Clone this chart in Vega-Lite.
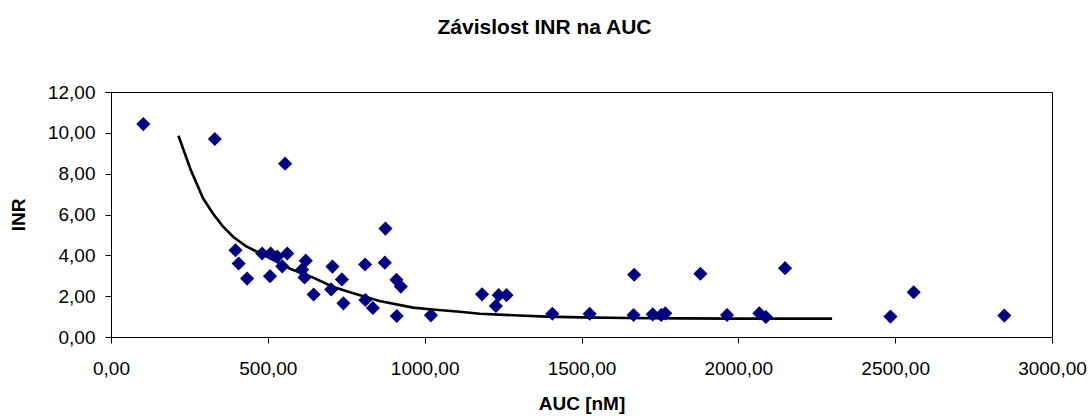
{
  "$schema": "https://vega.github.io/schema/vega-lite/v6.json",
  "width": 941,
  "height": 245,
  "autosize": {"type": "none"},
  "padding": {"left": 111, "top": 92, "right": 38, "bottom": 79},
  "background": "white",
  "title": {
    "text": "Závislost INR na AUC",
    "font": "Liberation Sans",
    "fontSize": 21,
    "fontWeight": "bold",
    "color": "black",
    "anchor": "middle",
    "frame": "group",
    "dx": -37,
    "offset": 45
  },
  "datasets": {
    "points": [
      {"auc": 103, "inr": 10.43},
      {"auc": 331, "inr": 9.70},
      {"auc": 555, "inr": 8.49},
      {"auc": 875, "inr": 5.31},
      {"auc": 397, "inr": 4.25},
      {"auc": 407, "inr": 3.60},
      {"auc": 434, "inr": 2.86},
      {"auc": 482, "inr": 4.09},
      {"auc": 509, "inr": 4.09},
      {"auc": 530, "inr": 3.94},
      {"auc": 562, "inr": 4.09},
      {"auc": 546, "inr": 3.46},
      {"auc": 507, "inr": 2.98},
      {"auc": 621, "inr": 3.74},
      {"auc": 609, "inr": 3.30},
      {"auc": 617, "inr": 2.92},
      {"auc": 646, "inr": 2.08},
      {"auc": 706, "inr": 3.45},
      {"auc": 702, "inr": 2.33},
      {"auc": 736, "inr": 2.82},
      {"auc": 741, "inr": 1.65},
      {"auc": 810, "inr": 3.55},
      {"auc": 873, "inr": 3.64},
      {"auc": 811, "inr": 1.81},
      {"auc": 835, "inr": 1.42},
      {"auc": 910, "inr": 2.80},
      {"auc": 924, "inr": 2.47},
      {"auc": 911, "inr": 1.03},
      {"auc": 1020, "inr": 1.06},
      {"auc": 1183, "inr": 2.09},
      {"auc": 1236, "inr": 2.05},
      {"auc": 1261, "inr": 2.05},
      {"auc": 1227, "inr": 1.52},
      {"auc": 1407, "inr": 1.14},
      {"auc": 1526, "inr": 1.14},
      {"auc": 1668, "inr": 3.05},
      {"auc": 1666, "inr": 1.08},
      {"auc": 1727, "inr": 1.11},
      {"auc": 1754, "inr": 1.08},
      {"auc": 1767, "inr": 1.16},
      {"auc": 1879, "inr": 3.10},
      {"auc": 1964, "inr": 1.08},
      {"auc": 2067, "inr": 1.16},
      {"auc": 2088, "inr": 0.98},
      {"auc": 2149, "inr": 3.37},
      {"auc": 2485, "inr": 1.00},
      {"auc": 2559, "inr": 2.19},
      {"auc": 2848, "inr": 1.05}
    ],
    "trend": [
      {"auc": 215, "inr": 9.86},
      {"auc": 255, "inr": 8.15},
      {"auc": 294, "inr": 6.78},
      {"auc": 325, "inr": 6.05},
      {"auc": 356, "inr": 5.43},
      {"auc": 390, "inr": 4.90},
      {"auc": 430, "inr": 4.45},
      {"auc": 494, "inr": 3.96},
      {"auc": 573, "inr": 3.33},
      {"auc": 643, "inr": 2.92},
      {"auc": 707, "inr": 2.46},
      {"auc": 767, "inr": 2.17},
      {"auc": 856, "inr": 1.76},
      {"auc": 963, "inr": 1.44},
      {"auc": 1016, "inr": 1.36},
      {"auc": 1112, "inr": 1.24},
      {"auc": 1176, "inr": 1.14},
      {"auc": 1300, "inr": 1.05},
      {"auc": 1389, "inr": 1.00},
      {"auc": 1500, "inr": 0.96},
      {"auc": 1650, "inr": 0.93},
      {"auc": 1815, "inr": 0.91},
      {"auc": 2000, "inr": 0.90},
      {"auc": 2299, "inr": 0.90}
    ]
  },
  "encoding": {
    "x": {
      "field": "auc",
      "type": "quantitative",
      "scale": {"domain": [0, 3000], "nice": false, "zero": true},
      "axis": {
        "title": "AUC [nM]",
        "values": [0, 500, 1000, 1500, 2000, 2500, 3000],
        "labelExpr": "replace(format(datum.value, '.2f'), '.', ',')",
        "labelFlush": false,
        "labelOverlap": false,
        "grid": false,
        "tickSize": 6,
        "labelPadding": 16,
        "titlePadding": 16
      }
    },
    "y": {
      "field": "inr",
      "type": "quantitative",
      "scale": {"domain": [0, 12], "nice": false},
      "axis": {
        "title": "INR",
        "values": [0, 2, 4, 6, 8, 10, 12],
        "labelExpr": "replace(format(datum.value, '.2f'), '.', ',')",
        "labelFlush": false,
        "labelOverlap": false,
        "grid": false,
        "tickSize": 6,
        "labelPadding": 10,
        "titlePadding": 19
      }
    }
  },
  "layer": [
    {
      "data": {"name": "trend"},
      "mark": {"type": "line", "color": "black", "strokeWidth": 2.6, "interpolate": "linear"}
    },
    {
      "data": {"name": "points"},
      "mark": {"type": "point", "shape": "diamond", "filled": true, "color": "#000080", "opacity": 1, "size": 200}
    }
  ],
  "config": {
    "view": {"stroke": "black", "strokeWidth": 1},
    "axis": {
      "labelFont": "Liberation Sans",
      "labelFontSize": 19,
      "labelColor": "black",
      "titleFont": "Liberation Sans",
      "titleFontSize": 19,
      "titleFontWeight": "bold",
      "titleColor": "black",
      "domainColor": "black",
      "tickColor": "black"
    }
  }
}
